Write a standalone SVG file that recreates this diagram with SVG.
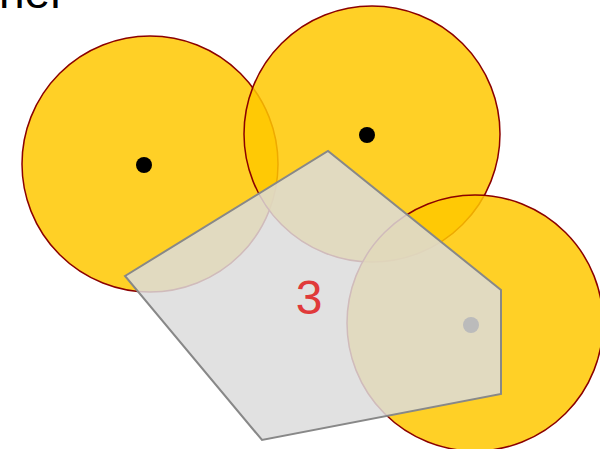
<svg xmlns="http://www.w3.org/2000/svg" width="600" height="449" viewBox="0 0 600 449">
<style>
.zone{fill:#FFC800;fill-opacity:0.85;stroke:#8B0000;stroke-width:1.5}
.dot{fill:#000}
.poly{fill:#DCDCDC;fill-opacity:0.85;stroke:#888;stroke-width:2}
.lbl{font-family:"Liberation Sans",Arial,sans-serif;font-size:48px;fill:#E03A3A;text-anchor:middle}
.title{font-family:"Liberation Sans",Arial,sans-serif;font-size:46px;fill:#000}
</style>
<rect width="600" height="449" fill="#fff"/>
<text class="title" x="-1" y="8">ner</text>
<g id="zone1"><circle class="zone" cx="150" cy="164" r="128"/><circle class="dot" cx="144" cy="165" r="8"/></g>
<g id="zone2"><circle class="zone" cx="372" cy="134" r="128"/><circle class="dot" cx="367" cy="135" r="8"/></g>
<g id="zone3"><circle class="zone" cx="475" cy="323" r="128"/><circle class="dot" cx="471" cy="325" r="8"/></g>
<g id="region">
<polygon class="poly" points="125,276 328,151 501,290 501,394 262,440"/>
<text class="lbl" x="309" y="314">3</text>
</g>
</svg>
